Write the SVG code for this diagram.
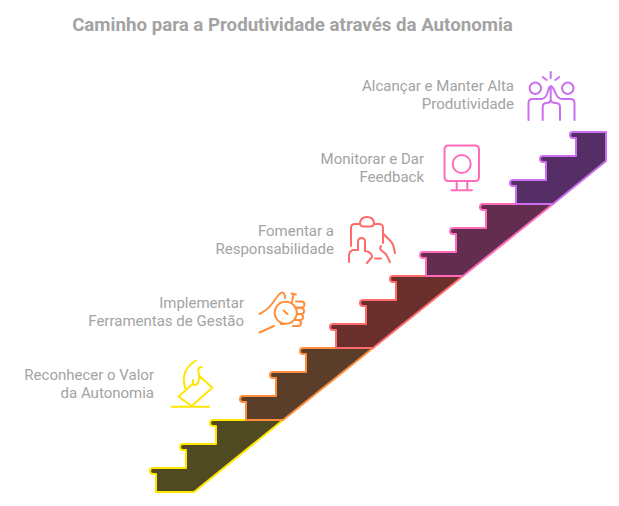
<svg xmlns="http://www.w3.org/2000/svg" width="619" height="506" viewBox="0 0 619 506">
<style>
text{font-family:Roboto,"Liberation Sans",sans-serif;fill:#A3A3A3;font-size:15px;text-anchor:end}
.title{font-size:18.700px;font-weight:700;text-anchor:middle;fill:#A3A3A3}
.step{stroke-width:2;stroke-linejoin:round}
.icon{fill:none;stroke-width:2;stroke-linecap:round;stroke-linejoin:round}
</style>
<rect width="619" height="506" fill="#fff"/>
<text class="title" x="292.500" y="31">Caminho para a Produtividade através da Autonomia</text>
<g id="connectors"></g>
<g id="node-1">
<path class="step" fill="#504A22" stroke="#FFE500" d="M156 492H194L283 420H213q-3 0-3 3t3 3H216V444H183q-3 0-3 3t3 3H186V468H153q-3 0-3 3t3 3H156Z"/>
<path class="icon" stroke="#FFE500" d="M171.500 406.700H209M178.500 396.700L191.700 406L212.300 387.700L200 376.500M178.500 396.700L193 383.500M196 360.500C187 366 183 374 184 382L185 388M202 367C197 367 198 371 199 374C200 379 198 385 195 385C192 385 193 381 193 380"/>
<text x="154" y="380">Reconhecer o Valor</text><text x="154" y="398">da Autonomia</text>
</g>
<g id="node-2">
<path class="step" fill="#5A3E29" stroke="#FF8E3C" d="M246 420H283L373 348H303q-3 0-3 3t3 3H306V372H273q-3 0-3 3t3 3H276V396H243q-3 0-3 3t3 3H246Z"/>
<path class="icon" stroke="#FF8E3C" d="M259.500 314C265 311 268 309 271 305L277 297C282 290 285 292 285 298M259.500 332.500L274 326M281 324L284 324M285.700 301.700a11 11 0 1 0 .1 0M283.500 310.500L287.500 314M292 302L293.500 294M291.500 293.500L296 294.500M296 301.500H301.500a2.800 2.800 0 0 1 0 6H295M297 308H301a3 3 0 0 1 0 6H297M297 314H300a2.800 2.800 0 0 1 0 6H296M294 320H298a2.800 2.800 0 0 1 0 6H293"/>
<text x="244" y="308">Implementar</text><text x="244" y="326">Ferramentas de Gestão</text>
</g>
<g id="node-3">
<path class="step" fill="#6A2F2D" stroke="#FF6B6B" d="M336 348H373L463 276H393q-3 0-3 3t3 3H396V300H363q-3 0-3 3t3 3H366V324H333q-3 0-3 3t3 3H336Z"/>
<path class="icon" stroke="#FF6B6B" d="M351 246V228q0-4 4-4H360M374 224H379q4 0 4 4V243M360 222.500q1-5.500 7-5.500q6 0 7 5.500q0 4-3.500 4H363.500q-3.500 0-3.500-4ZM383.500 234L391.500 242Q394 246 395 253M381 246Q379 249 382 251L386 254L390 262M349 262V256Q349 251 353 250L358 250V242Q358 238 361.500 238Q365 238 365 242V251Q372 252 372 257L367 263M375 258.500H381"/>
<text x="334" y="236">Fomentar a</text><text x="334" y="254">Responsabilidade</text>
</g>
<g id="node-4">
<path class="step" fill="#632D50" stroke="#FF6CB9" d="M426 276H463L553 204H483q-3 0-3 3t3 3H486V228H453q-3 0-3 3t3 3H456V252H423q-3 0-3 3t3 3H426Z"/>
<path class="icon" stroke="#FF6CB9" d="M448.500 145.500H475q4 0 4 4V177q0 4-4 4H448.500q-4 0-4-4V149.500q0-4 4-4ZM470.700 164a9 9 0 1 1-18 0a9 9 0 1 1 18 0M456.700 181V190.300M467.300 181V190.300M451.500 190.300H472"/>
<text x="424" y="164">Monitorar e Dar</text><text x="424" y="182">Feedback</text>
</g>
<g id="node-5">
<path class="step" fill="#552E66" stroke="#CC6EF0" d="M516 204H553L606 161V132H573q-3 0-3 3t3 3H576V156H543q-3 0-3 3t3 3H546V180H513q-3 0-3 3t3 3H516Z"/>
<path class="icon" stroke="#CC6EF0" d="M541 88.300a5.700 5.700 0 1 1-11.400 0a5.700 5.700 0 1 1 11.400 0M573.500 88.300a5.700 5.700 0 1 1-11.400 0a5.700 5.700 0 1 1 11.400 0M528.500 120V103q0-4 4-4H541Q545 99 547 94L549 88Q550.700 84 553 88L556 94Q558 99 562 99H570.500q4 0 4 4V120M542.700 120V107q0-4 4-4Q550 103 550.700 100Q551.500 103 555.500 103Q560 103 560 107V120M550.700 100L550.700 88M550.700 72V78M542.700 77L546.700 80M559.300 77L555.300 80"/>
<text x="514" y="91">Alcançar e Manter Alta</text><text x="514" y="109">Produtividade</text>
</g>
</svg>
